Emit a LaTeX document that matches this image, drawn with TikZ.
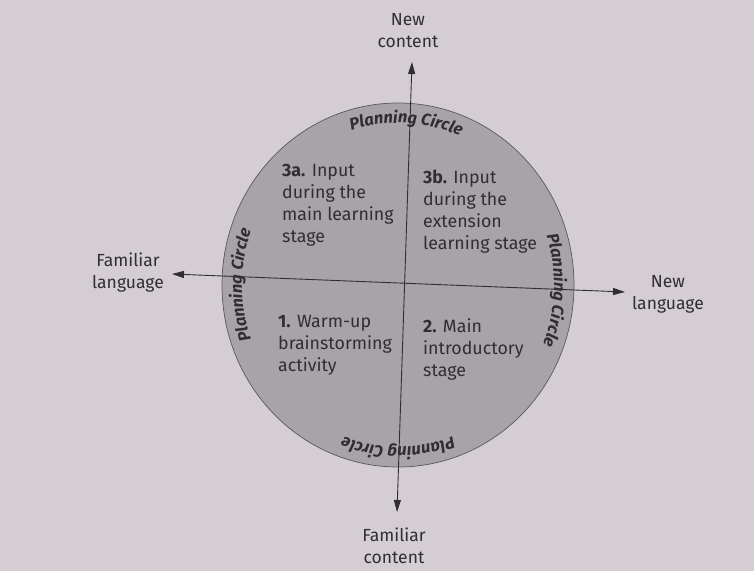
\documentclass[tikz,border=0pt]{standalone}
\usepackage{fontspec}
\setmainfont{Fira Sans}
\usetikzlibrary{arrows.meta,shapes.geometric,decorations.text,calc}

\definecolor{paper}{RGB}{212,206,210}
\definecolor{discgrey}{RGB}{168,163,167}
\definecolor{ink}{RGB}{48,45,52}

\tikzset{
  axis/.style={ink, line width=0.9pt, {Triangle[length=12pt,width=7pt]}-{Triangle[length=12pt,width=7pt]}},
  endlabel/.style={ink, align=center, font=\fontsize{17.5}{22}\selectfont},
  stagetext/.style={ink, align=left, anchor=west, inner sep=0pt, font=\fontsize{17.8}{22}\selectfont},
}

\begin{document}
\begin{tikzpicture}[x=1pt, y=1pt]
  \useasboundingbox (0,0) rectangle (754,571);
  \fill[paper] (0,0) rectangle (754,571);

  % Planning circle
  \node[ellipse, draw=ink!80, line width=0.7pt, fill=discgrey,
        minimum width=352pt, minimum height=364pt, inner sep=0pt] (plan) at (398,286) {};

  % Axes
  \coordinate (newtip) at (412,509);
  \coordinate (famtip) at (397,59);
  \coordinate (lefttip) at (172,297);
  \coordinate (righttip) at (625,279);
  \draw[axis] (famtip) -- (newtip);
  \draw[axis] (lefttip) -- (righttip);

  % Axis labels
  \node[endlabel] (newcont) at (408,540) {New\\content};
  \node[endlabel] (famcont) at (394,25) {Familiar\\content};
  \node[endlabel] (famlang) at (128,298) {Familiar\\language};
  \node[endlabel] (newlang) at (668,277) {New\\language};

  % Stages in the quarters
  \node[stagetext] (inputa) at (282,366) {\textbf{3a.} Input\\during the\\main learning\\stage};
  \node[stagetext] (inputb) at (423,359) {\textbf{3b.} Input\\during the\\extension\\learning stage};
  \node[stagetext] (warmup) at (278,226) {\textbf{1.} Warm-up\\brainstorming\\activity};
  \node[stagetext] (intro) at (423,222) {\textbf{2.} Main\\introductory\\stage};

  % "Planning Circle" round the rim
  \foreach \a in {87,-2,270,180}
    \path[decorate, decoration={text along path, text align=center, text color=ink,
          text={|\fontsize{16.5}{16.5}\selectfont\bfseries\itshape|Planning Circle}}]
      ($(plan.center)+(\a+34:156 and 162)$)
      arc[start angle=\a+34, end angle=\a-34, x radius=156, y radius=162];
\end{tikzpicture}
\end{document}
